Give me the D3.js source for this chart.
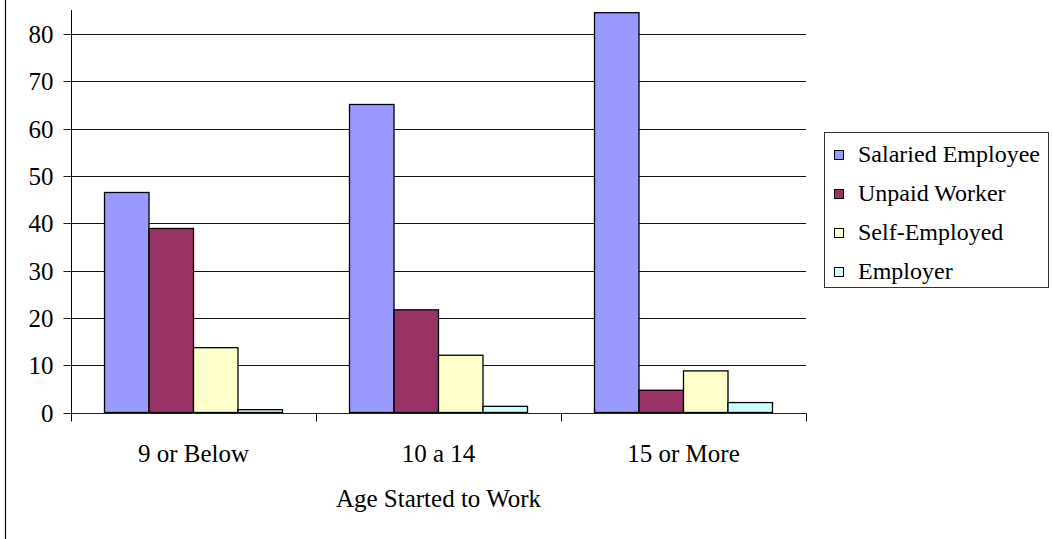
<!DOCTYPE html>
<html>
<head>
<meta charset="utf-8">
<script src="https://cdn.jsdelivr.net/npm/d3@7"></script>
<style>
  html, body { margin: 0; padding: 0; background: #fff; }
  svg { display: block; }
  svg text { font-family: "Liberation Serif", "Times New Roman", serif; fill: #000; }
</style>
</head>
<body>
<svg id="chart" width="1052" height="539"></svg>
<script>
// Age at which people started working, by employment category (%)
const categories = ["9 or Below", "10 a 14", "15 or More"];
const seriesNames = ["Salaried Employee", "Unpaid Worker", "Self-Employed", "Employer"];
const salaried = [46.5, 65.1, 84.5];
const unpaid = [38.9, 21.7, 4.7];
const selfEmployed = [13.7, 12.1, 8.8];
const employer = [0.6, 1.3, 2.1];
const yTicks = [0, 10, 20, 30, 40, 50, 60, 70, 80];
const colors = ["#9999FF", "#993366", "#FFFFCC", "#CCFFFF"];
const xTitle = "Age Started to Work";

const seriesValues = [salaried, unpaid, selfEmployed, employer];
const FONT = '"Liberation Serif", "Times New Roman", serif';

const svg = d3.select("#chart");

// plot area
const left = 71, right = 806, plotTop = 10;
const y0px = 412.5, y80px = 34;

const y = d3.scaleLinear().domain([0, 80]).range([y0px, y80px]);
const x0 = d3.scaleBand().domain(categories).range([left, right]).padding(0);
const x1 = d3.scaleBand().domain(seriesNames).range([0, x0.bandwidth()])
  .paddingInner(0).paddingOuter(0.753);
const color = d3.scaleOrdinal().domain(seriesNames).range(colors);

// outer chart border (left edge visible)
svg.append("rect")
  .attr("x", 5.5).attr("y", -10)
  .attr("width", 1100).attr("height", 600)
  .attr("fill", "none").attr("stroke", "#000").attr("stroke-width", 1.2);

// horizontal gridlines
svg.append("g")
  .selectAll("line")
  .data(yTicks.filter(d => d > 0))
  .join("line")
  .attr("x1", left).attr("x2", right)
  .attr("y1", d => Math.round(y(d)) + 0.5)
  .attr("y2", d => Math.round(y(d)) + 0.5)
  .attr("stroke", "#111").attr("stroke-width", 1);

// y axis
const yAxis = d3.axisLeft(y).tickValues(yTicks).tickSize(8).tickSizeOuter(0).tickPadding(10);
const gy = svg.append("g").attr("transform", `translate(${left + 0.5},0)`).call(yAxis)
  .attr("font-family", null).attr("font-size", 25);
gy.select(".domain").remove();
gy.selectAll(".tick line").attr("stroke", "#222");
gy.selectAll(".tick text").style("font-family", FONT).attr("font-size", 25).attr("fill", "#000");
gy.selectAll(".tick").attr("transform", d => `translate(0,${Math.round(y(d)) + 0.5})`);
svg.append("line")
  .attr("x1", left + 0.5).attr("x2", left + 0.5)
  .attr("y1", plotTop).attr("y2", y0px + 8)
  .attr("stroke", "#000");

// bars
const groups = svg.append("g")
  .selectAll("g")
  .data(categories)
  .join("g")
  .attr("transform", d => `translate(${x0(d)},0)`);

groups.selectAll("rect")
  .data((c, i) => seriesNames.map((s, j) => ({ series: s, value: seriesValues[j][i] })))
  .join("rect")
  .attr("x", d => x1(d.series))
  .attr("width", x1.bandwidth())
  .attr("y", d => y(d.value))
  .attr("height", d => y(0) - y(d.value))
  .attr("fill", d => color(d.series))
  .attr("stroke", "#000")
  .attr("stroke-width", 1.3);

// x axis baseline and category separators
const baseY = Math.round(y(0)) + 0.5;
svg.append("line")
  .attr("x1", left).attr("x2", right + 0.5)
  .attr("y1", baseY).attr("y2", baseY)
  .attr("stroke", "#222");
const sepPositions = categories.map(c => x0(c)).concat([x0(categories[categories.length - 1]) + x0.bandwidth()]);
svg.append("g")
  .selectAll("line")
  .data(sepPositions)
  .join("line")
  .attr("x1", d => Math.round(d) + 0.5).attr("x2", d => Math.round(d) + 0.5)
  .attr("y1", baseY).attr("y2", baseY + 8)
  .attr("stroke", "#000");

// category labels
svg.append("g")
  .selectAll("text")
  .data(categories)
  .join("text")
  .attr("x", d => x0(d) + x0.bandwidth() / 2)
  .attr("y", 461.5)
  .attr("text-anchor", "middle")
  .style("font-family", FONT)
  .attr("font-size", 25)
  .text(d => d);

// axis title
svg.append("text")
  .attr("x", (left + right) / 2)
  .attr("y", 507)
  .attr("text-anchor", "middle")
  .style("font-family", FONT)
  .attr("font-size", 25)
  .text(xTitle);

// legend
const legend = svg.append("g");
legend.append("rect")
  .attr("x", 824.5).attr("y", 132.5)
  .attr("width", 224).attr("height", 155)
  .attr("fill", "#fff").attr("stroke", "#333").attr("stroke-width", 1);
const rows = legend.selectAll("g.row")
  .data(seriesNames)
  .join("g")
  .attr("class", "row")
  .attr("transform", (d, i) => `translate(834,${155 + i * 39})`);
rows.append("rect")
  .attr("x", 0.5).attr("y", -4.5)
  .attr("width", 9).attr("height", 9)
  .attr("fill", d => color(d))
  .attr("stroke", "#000");
rows.append("text")
  .attr("x", 24)
  .attr("y", 7)
  .style("font-family", FONT)
  .attr("font-size", 24)
  .text(d => d);
</script>
</body>
</html>
